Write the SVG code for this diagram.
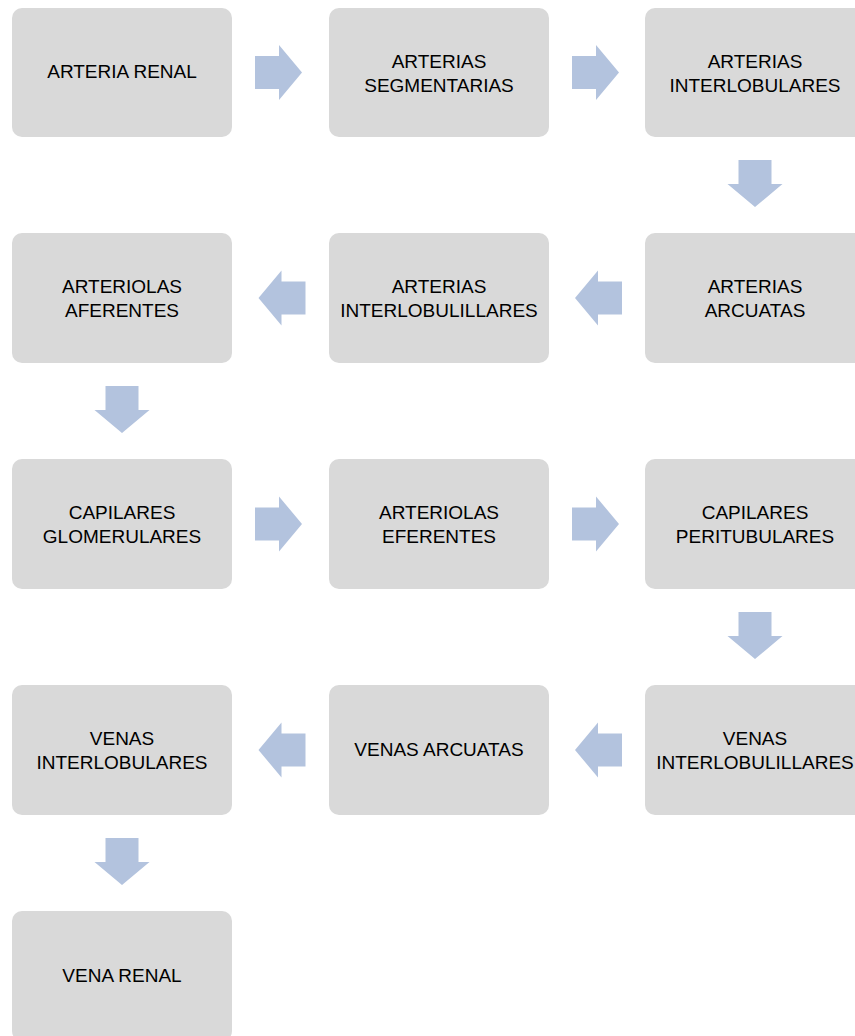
<svg xmlns="http://www.w3.org/2000/svg" width="855" height="1036" viewBox="0 0 855 1036">
<style>
.box{fill:#d9d9d9;}
.arr{fill:#b3c3de;}
text{font-family:"Liberation Sans",Arial,sans-serif;font-size:19px;fill:#000;text-anchor:middle;}
</style>
<defs>
<polygon id="ar" class="arr" points="0,-16.5 24,-16.5 24,-27.5 47,0 24,27.5 24,16.5 0,16.5"/>
</defs>
<rect width="855" height="1036" fill="#fff"/>
<g id="connectors">
<use href="#ar" x="255" y="72.5"/>
<use href="#ar" x="572" y="72.5"/>
<use href="#ar" transform="translate(755,160) rotate(90)"/>
<use href="#ar" transform="translate(622,298) rotate(180)"/>
<use href="#ar" transform="translate(305.5,298) rotate(180)"/>
<use href="#ar" transform="translate(122,386) rotate(90)"/>
<use href="#ar" x="255" y="524"/>
<use href="#ar" x="572" y="524"/>
<use href="#ar" transform="translate(755,612) rotate(90)"/>
<use href="#ar" transform="translate(622,750) rotate(180)"/>
<use href="#ar" transform="translate(305.5,750) rotate(180)"/>
<use href="#ar" transform="translate(122,838) rotate(90)"/>
</g>
<g id="n1"><rect class="box" x="12" y="8" width="220" height="129" rx="10"/><text x="122" y="78">ARTERIA RENAL</text></g>
<g id="n2"><rect class="box" x="329" y="8" width="220" height="129" rx="10"/><text x="439" y="67.5">ARTERIAS</text><text x="439" y="91.5">SEGMENTARIAS</text></g>
<g id="n3"><rect class="box" x="645" y="8" width="220" height="129" rx="10"/><text x="755" y="67.5">ARTERIAS</text><text x="755" y="91.5">INTERLOBULARES</text></g>
<g id="n4"><rect class="box" x="645" y="233" width="220" height="130" rx="10"/><text x="755" y="293">ARTERIAS</text><text x="755" y="317">ARCUATAS</text></g>
<g id="n5"><rect class="box" x="329" y="233" width="220" height="130" rx="10"/><text x="439" y="293">ARTERIAS</text><text x="439" y="317">INTERLOBULILLARES</text></g>
<g id="n6"><rect class="box" x="12" y="233" width="220" height="130" rx="10"/><text x="122" y="293">ARTERIOLAS</text><text x="122" y="317">AFERENTES</text></g>
<g id="n7"><rect class="box" x="12" y="459" width="220" height="130" rx="10"/><text x="122" y="519">CAPILARES</text><text x="122" y="543">GLOMERULARES</text></g>
<g id="n8"><rect class="box" x="329" y="459" width="220" height="130" rx="10"/><text x="439" y="519">ARTERIOLAS</text><text x="439" y="543">EFERENTES</text></g>
<g id="n9"><rect class="box" x="645" y="459" width="220" height="130" rx="10"/><text x="755" y="519">CAPILARES</text><text x="755" y="543">PERITUBULARES</text></g>
<g id="n10"><rect class="box" x="645" y="685" width="220" height="130" rx="10"/><text x="755" y="745">VENAS</text><text x="755" y="769">INTERLOBULILLARES</text></g>
<g id="n11"><rect class="box" x="329" y="685" width="220" height="130" rx="10"/><text x="439" y="756">VENAS ARCUATAS</text></g>
<g id="n12"><rect class="box" x="12" y="685" width="220" height="130" rx="10"/><text x="122" y="745">VENAS</text><text x="122" y="769">INTERLOBULARES</text></g>
<g id="n13"><rect class="box" x="12" y="911" width="220" height="130" rx="10"/><text x="122" y="982">VENA RENAL</text></g>
</svg>
